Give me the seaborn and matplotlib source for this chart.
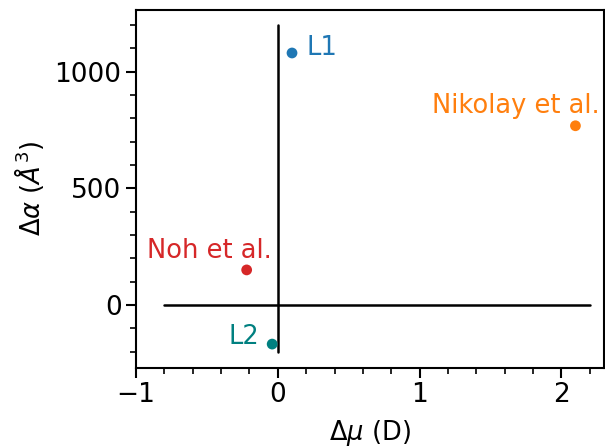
import matplotlib
matplotlib.use("Agg")
import matplotlib.pyplot as plt
import seaborn as sns
import pandas as pd
from matplotlib.ticker import MultipleLocator

sns.set_style("ticks", {"axes.edgecolor": "black", "text.color": "black",
                        "axes.labelcolor": "black", "xtick.color": "black",
                        "ytick.color": "black"})
plt.rcParams['font.family'] = ['DejaVu Sans']

labels = ["L1", "Nikolay et al.", "Noh et al.", "L2"]
dmu = [0.10, 2.10, -0.22, -0.04]
dalpha = [1080, 768, 150, -168]
colors = ["#1f77b4", "#ff7f0e", "#d62728", "#008080"]

df = pd.DataFrame({"dmu": dmu, "dalpha": dalpha, "label": labels})

fig = plt.figure(figsize=(6.05, 4.47), dpi=100)
ax = fig.add_axes([0.225, 0.177, 0.773, 0.801])

ax.plot([0, 0], [-200, 1200], color="black", lw=1.8, zorder=1)
ax.plot([-0.8, 2.2], [0, 0], color="black", lw=1.8, zorder=1)

sns.scatterplot(data=df, x="dmu", y="dalpha", hue="label", palette=dict(zip(labels, colors)),
                s=60, edgecolor="none", legend=False, ax=ax, zorder=3)

text_pos = {"L1": (0.20, 1100), "Nikolay et al.": (2.27, 852),
            "Noh et al.": (-0.04, 232), "L2": (-0.13, -137)}
for lab, c in zip(labels, colors):
    tx, ty = text_pos[lab]
    ha = "left" if lab == "L1" else "right"
    ax.text(tx, ty, lab, color=c, fontsize=18.5, ha=ha, va="center")

ax.set_xlim(-1, 2.3)
ax.set_ylim(-270, 1265)
ax.xaxis.set_major_locator(MultipleLocator(1))
ax.xaxis.set_minor_locator(MultipleLocator(0.2))
ax.yaxis.set_major_locator(MultipleLocator(500))
ax.yaxis.set_minor_locator(MultipleLocator(100))
ax.tick_params(which="major", labelsize=19, length=7, width=1.5, colors="black")
ax.tick_params(which="minor", length=4, width=1.2, colors="black")
for sp in ax.spines.values():
    sp.set_linewidth(1.5)
    sp.set_color("black")
ax.set_xlabel(r"$\Delta\mu$ (D)", fontsize=18.5, color="black", labelpad=7)
ax.set_ylabel(r"$\Delta\alpha$ ($\AA^3$)", fontsize=18.5, color="black", labelpad=6)

fig.savefig("out.png", dpi=100)
